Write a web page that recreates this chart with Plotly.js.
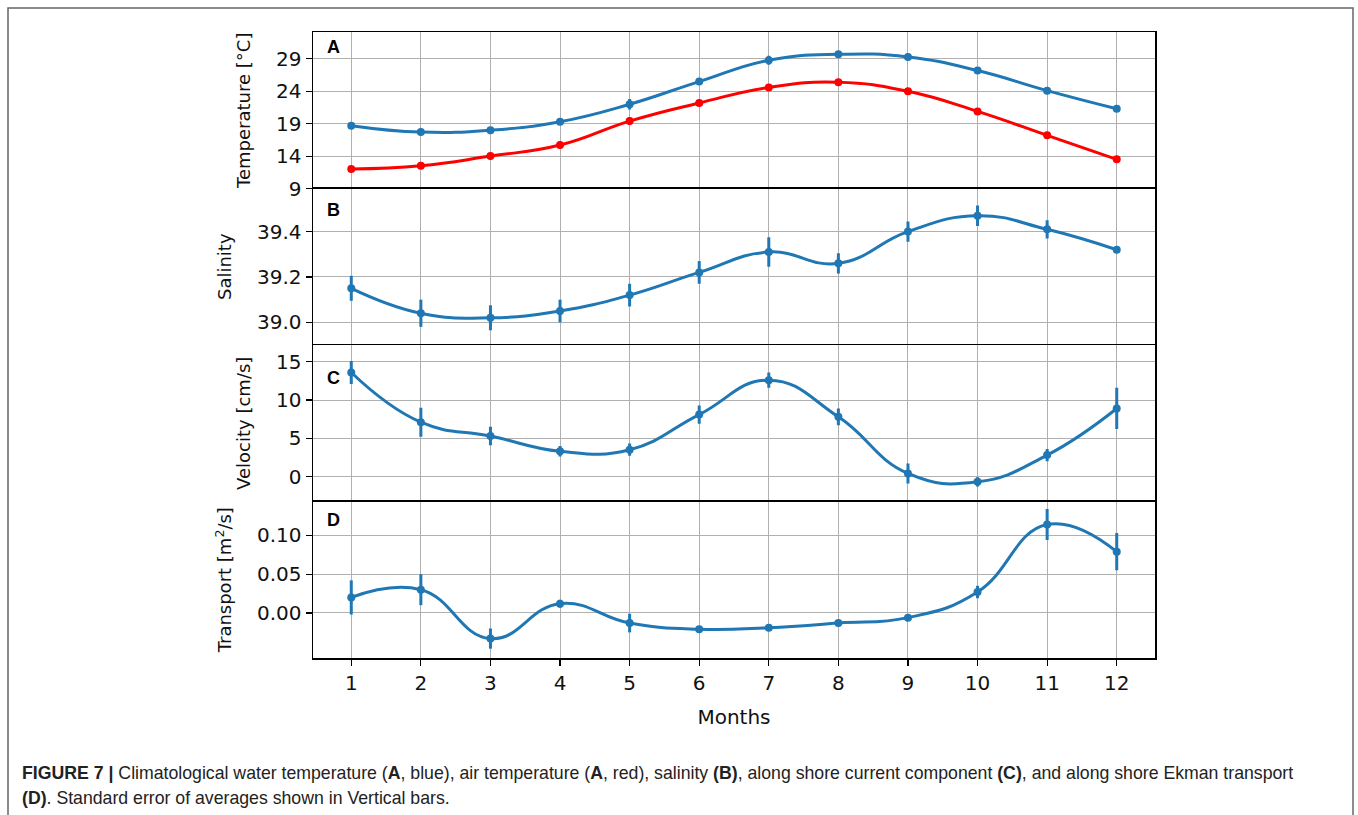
<!DOCTYPE html>
<html>
<head>
<meta charset="utf-8">
<script src="https://cdn.plot.ly/plotly-3.0.1.min.js"></script>
<style>
html,body{margin:0;padding:0;background:#fff;}
#chart{width:1358px;height:815px;}
</style>
</head>
<body>
<div id="chart"></div>
<script>
const months = [1,2,3,4,5,6,7,8,9,10,11,12];
const monthLabels = ['1','2','3','4','5','6','7','8','9','10','11','12'];

const waterTemp    = [18.7, 17.7, 18.0, 19.3, 22.0, 25.5, 28.8, 29.7, 29.3, 27.2, 24.1, 21.3];
const waterTempErr = [0.4, 0.5, 0.5, 0.4, 0.8, 0.5, 0.7, 0.4, 0.4, 0.4, 0.4, 0.5];
const airTemp      = [12.0, 12.5, 14.0, 15.7, 19.4, 22.2, 24.6, 25.4, 24.0, 20.9, 17.2, 13.5];
const airTempErr   = [0.4, 0.4, 0.5, 0.5, 0.6, 0.5, 0.5, 0.5, 0.5, 0.5, 0.5, 0.5];

const salinity     = [39.15, 39.04, 39.02, 39.05, 39.12, 39.22, 39.31, 39.26, 39.40, 39.47, 39.41, 39.32];
const salinityErr  = [0.055, 0.06, 0.055, 0.05, 0.05, 0.05, 0.065, 0.045, 0.045, 0.045, 0.04, 0.012];

const velocity     = [13.6, 7.1, 5.3, 3.3, 3.5, 8.1, 12.6, 7.8, 0.4, -0.7, 2.8, 8.9];
const velocityErr  = [1.5, 1.9, 1.2, 0.7, 0.8, 1.2, 1.0, 1.1, 1.3, 0.6, 0.8, 2.7];

const transport    = [0.020, 0.030, -0.033, 0.012, -0.013, -0.021, -0.019, -0.013, -0.006, 0.027, 0.114, 0.079];
const transportErr = [0.022, 0.020, 0.013, 0.005, 0.012, 0.003, 0.004, 0.004, 0.004, 0.008, 0.020, 0.024];

const BLUE = '#1f77b4';
const RED = '#ff0000';

function series(y, err, color, xa, ya){
  return {
    x: months, y: y, xaxis: xa, yaxis: ya, type: 'scatter', mode: 'lines+markers',
    line: {color: color, width: 3, shape: 'spline', smoothing: 1.3},
    marker: {color: color, size: 8},
    error_y: {type: 'data', array: err, visible: true, color: color, thickness: 3, width: 0},
    hoverinfo: 'x+y', showlegend: false
  };
}

const traces = [
  series(waterTemp, waterTempErr, BLUE, 'x', 'y'),
  series(airTemp, airTempErr, RED, 'x', 'y'),
  series(salinity, salinityErr, BLUE, 'x2', 'y2'),
  series(velocity, velocityErr, BLUE, 'x3', 'y3'),
  series(transport, transportErr, BLUE, 'x4', 'y4')
];

const FAM = 'DejaVu Sans, sans-serif';
const tickFont = {family: FAM, size: 20, color: '#111'};
const titleFont = {family: FAM, size: 18, color: '#111'};

function xax(anchor, bottom){
  const a = {
    anchor: anchor, range: [0.45, 12.55], tickmode: 'array', tickvals: months, ticktext: monthLabels,
    showgrid: true, gridcolor: '#b0b0b0', gridwidth: 1, zeroline: false,
    showline: true, linecolor: '#000', linewidth: 1.5,
    ticks: bottom ? 'outside' : '', ticklen: 6, tickcolor: '#000', tickwidth: 1.2,
    showticklabels: bottom, tickfont: tickFont
  };
  if (anchor !== 'y') a.matches = 'x';
  if (bottom) {
    a.side = 'bottom';
    a.mirror = true;
    a.title = {text: 'Months', font: {family: FAM, size: 20, color: '#111'}, standoff: 16};
  } else {
    a.side = 'top';
  }
  return a;
}
function yax(anchor, dom, range, tickvals, ticktext, title){
  return {
    anchor: anchor, domain: dom, range: range, tickmode: 'array', tickvals: tickvals, ticktext: ticktext,
    showgrid: true, gridcolor: '#b0b0b0', gridwidth: 1, zeroline: false,
    showline: true, linecolor: '#000', linewidth: 1.5, mirror: true,
    ticks: 'outside', ticklen: 6, tickcolor: '#000', tickwidth: 1.2,
    tickfont: tickFont, title: {text: title, font: titleFont, standoff: 20}
  };
}

const layout = {
  width: 1358, height: 815,
  margin: {l: 313, r: 203, t: 32, b: 157},
  paper_bgcolor: '#fff', plot_bgcolor: '#fff',
  showlegend: false,
  xaxis: xax('y', false),
  xaxis2: xax('y2', false),
  xaxis3: xax('y3', false),
  xaxis4: xax('y4', true),
  yaxis: yax('x', [0.75, 1.0], [9, 33.15], [9,14,19,24,29], ['9','14','19','24','29'], 'Temperature [°C]'),
  yaxis2: yax('x2', [0.5, 0.75], [38.9, 39.59], [39.0,39.2,39.4], ['39.0','39.2','39.4'], 'Salinity'),
  yaxis3: yax('x3', [0.25, 0.5], [-3.27, 17.2], [0,5,10,15], ['0','5','10','15'], 'Velocity [cm/s]'),
  yaxis4: yax('x4', [0.0, 0.25], [-0.058, 0.1436], [0,0.05,0.10], ['0.00','0.05','0.10'], 'Transport [m<sup>2</sup>/s]'),
  annotations: [
    {text: '<b>A</b>', xref: 'paper', yref: 'paper', x: 0.0145, y: 0.75 + 0.25*0.904, xanchor: 'left', yanchor: 'middle', showarrow: false, font: {family: 'Liberation Sans, Arial, sans-serif', size: 18, color: '#000'}},
    {text: '<b>B</b>', xref: 'paper', yref: 'paper', x: 0.0145, y: 0.5 + 0.25*0.865, xanchor: 'left', yanchor: 'middle', showarrow: false, font: {family: 'Liberation Sans, Arial, sans-serif', size: 18, color: '#000'}},
    {text: '<b>C</b>', xref: 'paper', yref: 'paper', x: 0.0145, y: 0.25 + 0.25*0.79, xanchor: 'left', yanchor: 'middle', showarrow: false, font: {family: 'Liberation Sans, Arial, sans-serif', size: 18, color: '#000'}},
    {text: '<b>D</b>', xref: 'paper', yref: 'paper', x: 0.0145, y: 0.25*0.88, xanchor: 'left', yanchor: 'middle', showarrow: false, font: {family: 'Liberation Sans, Arial, sans-serif', size: 18, color: '#000'}},
    {text: '<b>FIGURE 7 |</b> Climatological water temperature (<b>A</b>, blue), air temperature (<b>A</b>, red), salinity <b>(B)</b>, along shore current component <b>(C)</b>, and along shore Ekman transport',
     xref: 'paper', yref: 'paper', x: (20-313)/842, y: (658-773)/626, xanchor: 'left', yanchor: 'middle', showarrow: false, align: 'left',
     font: {family: 'Liberation Sans, Arial, sans-serif', size: 17.7, color: '#222'}},
    {text: '<b>(D)</b>. Standard error of averages shown in Vertical bars.',
     xref: 'paper', yref: 'paper', x: (20-313)/842, y: (658-798)/626, xanchor: 'left', yanchor: 'middle', showarrow: false, align: 'left',
     font: {family: 'Liberation Sans, Arial, sans-serif', size: 17.7, color: '#222'}}
  ],
  shapes: [
    {type: 'path', xref: 'paper', yref: 'paper',
     path: 'M ' + ((8-313)/842) + ' ' + ((658-830)/626) + ' L ' + ((8-313)/842) + ' ' + ((658-8)/626) + ' L ' + ((1353-313)/842) + ' ' + ((658-8)/626) + ' L ' + ((1353-313)/842) + ' ' + ((658-830)/626),
     line: {color: '#666', width: 1.5}}
  ]
};

Plotly.newPlot('chart', traces, layout, {displayModeBar: false, staticPlot: true});
</script>
</body>
</html>
